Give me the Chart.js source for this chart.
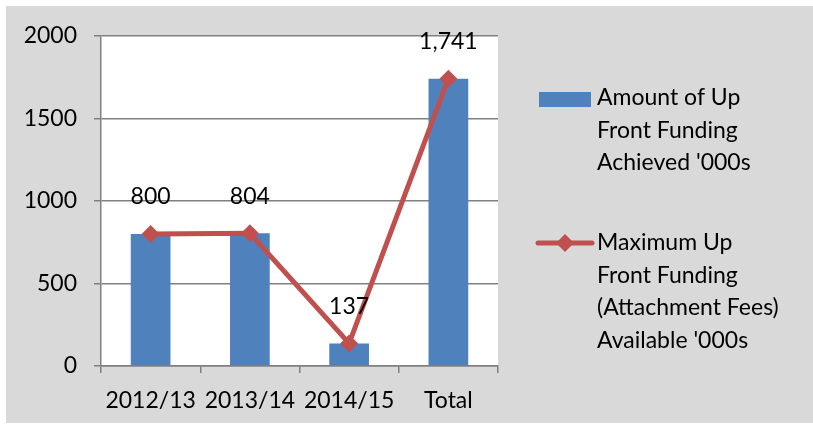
<!DOCTYPE html>
<html lang="en">
<head>
    <meta charset="UTF-8">
    <title>Up Front Funding</title>
    <script src="https://cdn.jsdelivr.net/npm/chart.js"></script>
    <style>
        html, body { margin: 0; padding: 0; background: #ffffff; }
        #wrap { width: 813px; height: 430px; }
    </style>
</head>
<body>
    <div id="wrap">
        <canvas id="fundingChart" width="813" height="430"></canvas>
    </div>
</body>
</html>
<script>
var categories = ['2012/13', '2013/14', '2014/15', 'Total'];
var achieved = [800, 804, 137, 1741];
var maxAvailable = [800, 804, 137, 1741];
var yTicks = [0, 500, 1000, 1500, 2000];

var barLabel = ['Amount of Up', 'Front Funding', "Achieved '000s"];
var lineLabel = ['Maximum Up', 'Front Funding', '(Attachment Fees)', "Available '000s"];

var FONT = 'Lato, "Open Sans", sans-serif';
var FSIZE = 23;
var blue = '#4f81bd';
var red = '#c0504d';
var gridColor = '#808080';

// background: white edge, grey chart box, white plot
var backgroundPlugin = {
    id: 'bg',
    beforeDraw: function(chart) {
        var c = chart.ctx;
        var a = chart.chartArea;
        c.save();
        c.fillStyle = '#ffffff';
        c.fillRect(0, 0, chart.width, chart.height);
        c.fillStyle = '#d9d9d9';
        c.fillRect(6, 6, chart.width - 6, 417);
        c.fillStyle = '#ffffff';
        c.fillRect(a.left, a.top, a.right - a.left, a.bottom - a.top);
        c.restore();
    }
};

// value labels above the line points
var valueLabels = {
    id: 'valueLabels',
    afterDatasetsDraw: function(chart) {
        var c = chart.ctx;
        var meta = chart.getDatasetMeta(1);
        var values = chart.data.datasets[1].data;
        c.save();
        c.font = FSIZE + 'px ' + FONT;
        c.fillStyle = '#000000';
        c.textAlign = 'center';
        c.textBaseline = 'middle';
        meta.data.forEach(function(pt, i) {
            c.fillText(values[i].toLocaleString('en-US'), pt.x, pt.y - 37);
        });
        c.restore();
    }
};

// legend drawn by hand so the labels can wrap over several lines
var sideLegend = {
    id: 'sideLegend',
    afterDraw: function(chart) {
        var c = chart.ctx;
        var textX = 597;
        var lineH = 32.5;
        c.save();
        c.font = FSIZE + 'px ' + FONT;
        c.textAlign = 'left';
        c.textBaseline = 'middle';

        c.fillStyle = blue;
        c.fillRect(539, 92, 52, 15);
        c.fillStyle = '#000000';
        barLabel.forEach(function(t, i) {
            c.fillText(t, textX, 98 + i * lineH);
        });

        var ly = 243;
        c.strokeStyle = red;
        c.lineWidth = 5;
        c.lineCap = 'round';
        c.beginPath();
        c.moveTo(538, ly);
        c.lineTo(592, ly);
        c.stroke();
        c.fillStyle = red;
        c.beginPath();
        c.moveTo(565, ly - 9);
        c.lineTo(574, ly);
        c.lineTo(565, ly + 9);
        c.lineTo(556, ly);
        c.closePath();
        c.fill();
        c.fillStyle = '#000000';
        lineLabel.forEach(function(t, i) {
            c.fillText(t, textX, ly + i * lineH);
        });
        c.restore();
    }
};

var ctx = document.getElementById('fundingChart').getContext('2d');

var fundingChart = new Chart(ctx, {
    data: {
        labels: categories,
        datasets: [{
            type: 'bar',
            label: barLabel.join(' '),
            data: achieved,
            backgroundColor: blue,
            borderWidth: 0,
            barPercentage: 0.4,
            categoryPercentage: 1,
            order: 2
        }, {
            type: 'line',
            label: lineLabel.join(' '),
            data: maxAvailable,
            borderColor: red,
            borderWidth: 5,
            backgroundColor: red,
            pointStyle: 'rectRot',
            pointRadius: 9,
            pointBorderWidth: 0,
            pointBackgroundColor: red,
            pointBorderColor: red,
            tension: 0,
            order: 1
        }]
    },
    options: {
        responsive: false,
        animation: false,
        events: [],
        layout: {
            padding: { left: 0, top: 36, right: 315, bottom: 0 }
        },
        plugins: {
            legend: { display: false },
            tooltip: { enabled: false }
        },
        scales: {
            x: {
                grid: {
                    offset: true,
                    drawOnChartArea: false,
                    drawTicks: true,
                    tickLength: 7,
                    color: gridColor,
                    lineWidth: 1.5
                },
                border: { color: gridColor, width: 1.5 },
                ticks: {
                    color: '#000000',
                    font: { family: FONT, size: FSIZE },
                    padding: 14,
                    maxRotation: 0
                },
                afterFit: function(scale) { scale.height = 64; }
            },
            y: {
                min: 0,
                max: 2000,
                afterBuildTicks: function(scale) {
                    scale.ticks = yTicks.map(function(v) { return { value: v }; });
                },
                grid: {
                    color: gridColor,
                    lineWidth: 1.5,
                    tickLength: 7
                },
                border: { color: gridColor, width: 1.5 },
                ticks: {
                    color: '#000000',
                    font: { family: FONT, size: FSIZE },
                    padding: 17,
                    callback: function(v) { return String(v); }
                },
                afterFit: function(scale) { scale.width = 101; }
            }
        }
    },
    plugins: [backgroundPlugin, valueLabels, sideLegend]
});
</script>
